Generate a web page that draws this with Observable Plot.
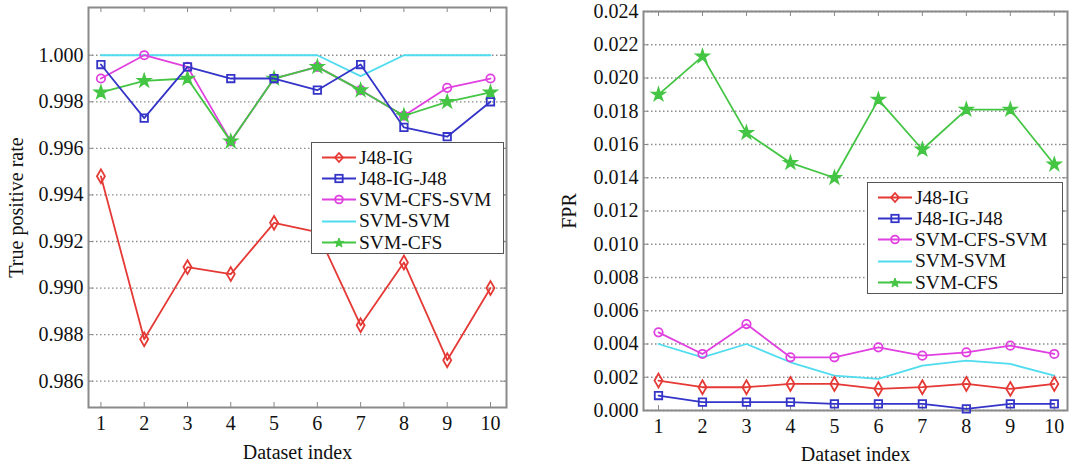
<!DOCTYPE html>
<html><head><meta charset="utf-8">
<script src="https://cdn.jsdelivr.net/npm/d3@7"></script>
<script src="https://cdn.jsdelivr.net/npm/@observablehq/plot@0.6"></script>
<style>
body{margin:0;background:#fff;}
#wrap{position:relative;width:1092px;height:467px;font-family:"Liberation Serif","DejaVu Serif",serif;overflow:hidden;}
.chart{position:absolute;top:0;}
.legend{position:absolute;background:#fff;border:1.5px solid #555;box-sizing:border-box;padding:4px 0 0 0;font-family:"Liberation Serif","DejaVu Serif",serif;font-size:19.5px;color:#111;line-height:1;}
.legend .row{display:flex;align-items:center;height:21.2px;}
.legend svg{margin-left:10px;margin-right:3px;}
</style></head><body><div id="wrap"></div><script>
const datasetIndex = [1,2,3,4,5,6,7,8,9,10];
const seriesNames = ["J48-IG","J48-IG-J48","SVM-CFS-SVM","SVM-SVM","SVM-CFS"];
const seriesColors = ["#e53935","#3434c8","#e040e0","#50dcef","#44c544"];
const seriesSymbols = ["diamond","square","circle",null,"star"];

// True positive rate
const tprJ48IG     = [0.9948,0.9878,0.9909,0.9906,0.9928,0.9924,0.9884,0.9911,0.9869,0.9900];
const tprJ48IGJ48  = [0.9996,0.9973,0.9995,0.9990,0.9990,0.9985,0.9996,0.9969,0.9965,0.9980];
const tprSVMCFSSVM = [0.9990,1.0000,0.9995,0.9963,0.9990,0.9995,0.9985,0.9974,0.9986,0.9990];
const tprSVMSVM    = [1.0000,1.0000,1.0000,1.0000,1.0000,1.0000,0.9991,1.0000,1.0000,1.0000];
const tprSVMCFS    = [0.9984,0.9989,0.9990,0.9963,0.9990,0.9995,0.9985,0.9974,0.9980,0.9984];

// False positive rate
const fprJ48IG     = [0.0018,0.0014,0.0014,0.0016,0.0016,0.0013,0.0014,0.0016,0.0013,0.0016];
const fprJ48IGJ48  = [0.0009,0.0005,0.0005,0.0005,0.0004,0.0004,0.0004,0.0001,0.0004,0.0004];
const fprSVMCFSSVM = [0.0047,0.0034,0.0052,0.0032,0.0032,0.0038,0.0033,0.0035,0.0039,0.0034];
const fprSVMSVM    = [0.0040,0.0032,0.0040,0.0029,0.0021,0.0019,0.0027,0.0030,0.0028,0.0021];
const fprSVMCFS    = [0.0190,0.0213,0.0167,0.0149,0.0140,0.0187,0.0157,0.0181,0.0181,0.0148];

const tprTicks = [0.986,0.988,0.990,0.992,0.994,0.996,0.998,1.000];
const fprTicks = [0.000,0.002,0.004,0.006,0.008,0.010,0.012,0.014,0.016,0.018,0.020,0.022,0.024];

const tprSeries = [tprJ48IG,tprJ48IGJ48,tprSVMCFSSVM,tprSVMSVM,tprSVMCFS];
const fprSeries = [fprJ48IG,fprJ48IGJ48,fprSVMCFSSVM,fprSVMSVM,fprSVMCFS];
const drawOrder = [3,2,4,1,0];
const FONT = "'Liberation Serif','DejaVu Serif',serif";

function makeChart(o){
  const innerH = o.height - o.mT - o.mB;
  const innerW = o.width - o.mL - o.mR;
  const marks = [
    Plot.gridY(o.yTicks, {stroke:"#808080", strokeOpacity:0.9, strokeDasharray:"1.5,2.5", strokeWidth:1.3}),
    Plot.tickX(datasetIndex, {x:d=>d, stroke:"#888", insetTop: innerH-5}),
    Plot.tickX(datasetIndex, {x:d=>d, stroke:"#888", insetBottom: innerH-5}),
    Plot.tickY(o.yTicks, {y:d=>d, stroke:"#888", insetRight: innerW-5}),
    Plot.tickY(o.yTicks, {y:d=>d, stroke:"#888", insetLeft: innerW-5}),
    Plot.frame({stroke:"#8a8a8a", strokeWidth:2})
  ];
  for (const i of drawOrder){
    const rows = datasetIndex.map((x,j)=>({x, y:o.series[i][j]}));
    marks.push(Plot.line(rows, {x:"x", y:"y", stroke:seriesColors[i], strokeWidth:1.8}));
    const sym = seriesSymbols[i];
    if (sym){
      const filled = sym === "star";
      marks.push(Plot.dot(rows, {x:"x", y:"y", symbol:sym, r: filled ? 3.8 : 4.2,
        stroke:seriesColors[i], strokeWidth:1.8, fill: filled ? seriesColors[i] : "none"}));
    }
  }
  marks.push(Plot.axisY({ticks:o.yTicks, tickFormat:d3.format(".3f"), tickSize:0, tickPadding:5,
    fontSize:20, fontFamily:FONT,
    label:o.ylabel, labelAnchor:"center", labelArrow:"none", labelOffset:o.yLabelOffset}));
  marks.push(Plot.axisX({ticks:datasetIndex, tickFormat:d=>String(d), tickSize:0, tickPadding:8,
    fontSize:20, fontFamily:FONT,
    label:"Dataset index", labelAnchor:"center", labelArrow:"none", labelOffset:o.xLabelOffset}));
  return Plot.plot({
    width:o.width, height:o.height,
    marginLeft:o.mL, marginRight:o.mR, marginTop:o.mT, marginBottom:o.mB,
    x:{domain:o.xDomain}, y:{domain:o.yDomain},
    style:{fontSize:"20px", fontFamily:FONT, color:"#111", background:"transparent"},
    marks
  });
}

function makeLegend(left, top, width){
  const box = document.createElement("div");
  box.className = "legend";
  box.style.left = left+"px"; box.style.top = top+"px"; box.style.width = width+"px";
  seriesNames.forEach((name,i)=>{
    const row = document.createElement("div");
    row.className = "row";
    const sym = seriesSymbols[i];
    let marker = "";
    const c = seriesColors[i];
    if (sym==="diamond") marker = `<path d="M17,6 L21,10.5 L17,15 L13,10.5Z" fill="none" stroke="${c}" stroke-width="1.8"/>`;
    else if (sym==="square") marker = `<rect x="13.3" y="6.8" width="7.4" height="7.4" fill="none" stroke="${c}" stroke-width="1.8"/>`;
    else if (sym==="circle") marker = `<circle cx="17" cy="10.5" r="3.9" fill="none" stroke="${c}" stroke-width="1.8"/>`;
    else if (sym==="star") marker = `<path d="M17,6 L18.3,9.4 L21.8,9.4 L19,11.6 L20,15 L17,13 L14,15 L15,11.6 L12.2,9.4 L15.7,9.4Z" fill="${c}" stroke="${c}" stroke-width="1"/>`;
    row.innerHTML = `<svg width="34" height="21"><line x1="0" x2="34" y1="10.5" y2="10.5" stroke="${c}" stroke-width="1.8"/>${marker}</svg><span>${name}</span>`;
    box.appendChild(row);
  });
  return box;
}

const wrap = document.getElementById("wrap");
const left = makeChart({series:tprSeries, yTicks:tprTicks, yDomain:[0.98487,1.00205], xDomain:[0.713,10.37],
  ylabel:"True positive rate", width:546, height:467, mL:88, mR:40, mT:7, mB:60, yLabelOffset:80, xLabelOffset:51});
left.classList.add("chart"); left.style.left = "0px";
wrap.appendChild(left);
const right = makeChart({series:fprSeries, yTicks:fprTicks, yDomain:[0,0.024], xDomain:[0.659,10.30],
  ylabel:"FPR", width:546, height:467, mL:97, mR:25, mT:11, mB:57, yLabelOffset:82, xLabelOffset:50});
right.classList.add("chart"); right.style.left = "546px";
wrap.appendChild(right);
wrap.appendChild(makeLegend(311, 142, 193));
wrap.appendChild(makeLegend(867, 182, 196));
</script></body></html>
